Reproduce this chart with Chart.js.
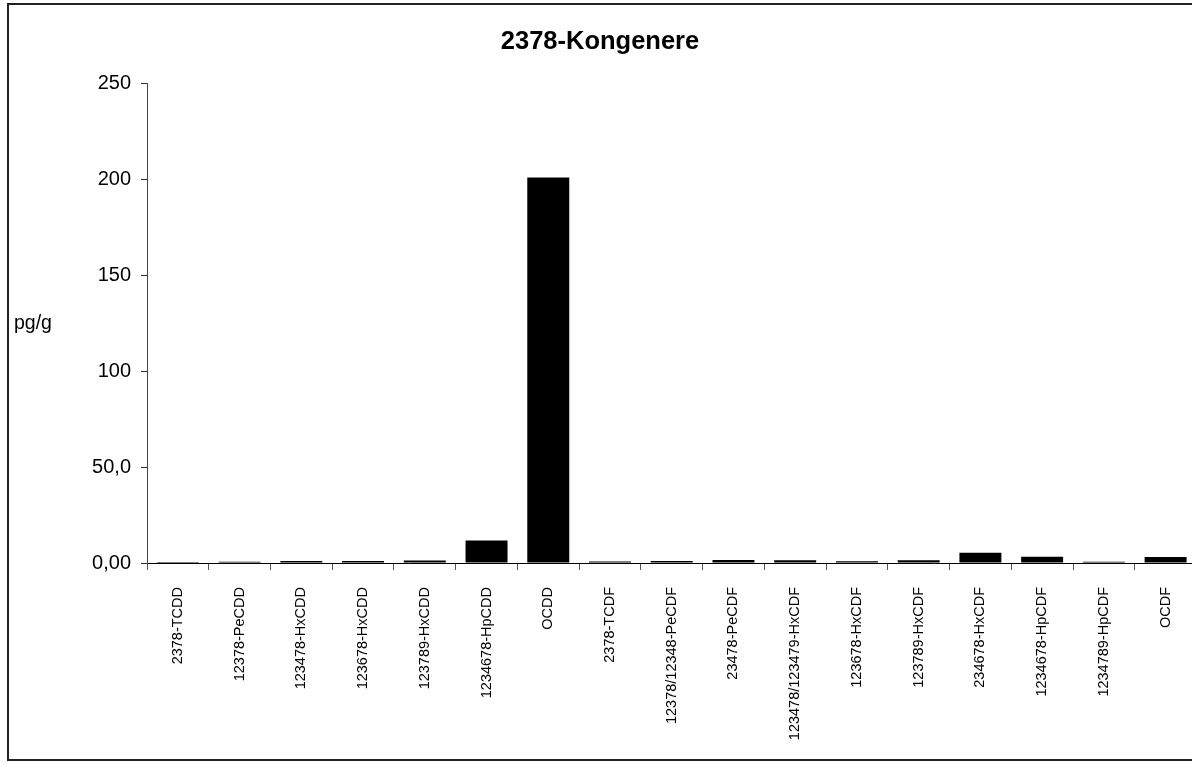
<!DOCTYPE html>
<html>
<head>
<meta charset="utf-8">
<script src="https://cdn.jsdelivr.net/npm/chart.js@4"></script>
<style>
  html, body { margin: 0; padding: 0; background: #fff; overflow: hidden; }
  #wrap { position: relative; width: 1192px; height: 765px; overflow: hidden; }
  #frame { position: absolute; left: 7px; top: 3px; width: 1200px; height: 758px; border: 2px solid #222; box-sizing: border-box; }
  #box { position: absolute; left: 0; top: 0; width: 1200px; height: 765px; }
</style>
</head>
<body>
<div id="wrap">
  <div id="frame"></div>
  <div id="box"><canvas id="kongChart"></canvas></div>
</div>
<script>
// congener names
var congeners = [
  "2378-TCDD", "12378-PeCDD", "123478-HxCDD", "123678-HxCDD", "123789-HxCDD",
  "1234678-HpCDD", "OCDD", "2378-TCDF", "12378/12348-PeCDF", "23478-PeCDF",
  "123478/123479-HxCDF", "123678-HxCDF", "123789-HxCDF", "234678-HxCDF",
  "1234678-HpCDF", "1234789-HpCDF", "OCDF"
];
// pg/g
var pgPerG = [0.5, 0.6, 1.0, 1.0, 1.3, 11.7, 201, 0.8, 1.0, 1.6, 1.4, 0.9, 1.4, 5.4, 3.3, 0.6, 3.1];

var yTicks = [0, 50, 100, 150, 200, 250];
var yTickLabels = ["0,00", "50,0", "100", "150", "200", "250"];

var font = "'Liberation Sans', Arial, sans-serif";

// horizontal y-axis unit label
var unitLabel = {
  id: 'unitLabel',
  afterDraw: function(chart) {
    var ctx = chart.ctx;
    var area = chart.chartArea;
    ctx.save();
    ctx.font = "19.5px " + font;
    ctx.fillStyle = "#000";
    ctx.textAlign = "left";
    ctx.textBaseline = "middle";
    ctx.fillText("pg/g", 14, (area.top + area.bottom) / 2);
    ctx.restore();
  }
};

var ctx = document.getElementById("kongChart");

var kongChart = new Chart(ctx, {
  type: 'bar',
  data: {
    labels: congeners,
    datasets: [{
      label: "pg/g",
      data: pgPerG,
      backgroundColor: "#000",
      borderWidth: 0,
      barPercentage: 0.68,
      categoryPercentage: 1.0
    }]
  },
  options: {
    responsive: true,
    maintainAspectRatio: false,
    animation: false,
    layout: { padding: { left: 0, right: 0, top: 0, bottom: 0 } },
    plugins: {
      legend: { display: false },
      tooltip: { enabled: false },
      title: {
        display: true,
        text: "2378-Kongenere",
        color: "#000",
        font: { family: font, size: 25.5, weight: 'bold' },
        padding: { top: 27, bottom: 26 }
      }
    },
    scales: {
      x: {
        grid: { drawOnChartArea: false, drawTicks: true, tickLength: 7, color: "#555", offset: true },
        border: { display: true, color: "#000", width: 1 },
        ticks: {
          color: "#000",
          font: { family: font, size: 14.5 },
          minRotation: 90,
          maxRotation: 90,
          autoSkip: false,
          padding: 17
        },
        afterFit: function(scale) { scale.height = 202; }
      },
      y: {
        min: 0,
        max: 250,
        afterBuildTicks: function(scale) {
          scale.ticks = yTicks.map(function(v) { return { value: v }; });
        },
        grid: { drawOnChartArea: false, drawTicks: true, tickLength: 6, color: "#333" },
        border: { display: true, color: "#444", width: 1 },
        ticks: {
          color: "#000",
          font: { family: font, size: 20 },
          padding: 10,
          callback: function(value) {
            var i = yTicks.indexOf(value);
            return i >= 0 ? yTickLabels[i] : "";
          }
        },
        afterFit: function(scale) { scale.width = 147; }
      }
    }
  },
  plugins: [unitLabel]
});
</script>
</body>
</html>
